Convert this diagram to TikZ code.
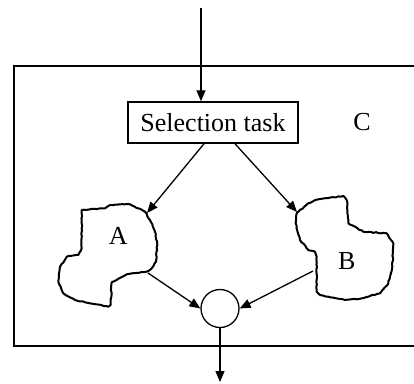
\documentclass[tikz,border=0pt]{standalone}
\usepackage{fontspec}
\setmainfont{Liberation Serif}
\usetikzlibrary{arrows.meta,decorations.pathmorphing,calc}
\begin{document}
\begin{tikzpicture}[x=1pt,y=-1pt,
  conn/.style={line width=1.3pt,-{Triangle[length=11pt,width=9pt]}},
  blob/.style={line width=2pt, line join=round, decorate,
    decoration={random steps,segment length=2.5pt,amplitude=0.45pt}},
  lbl/.style={font=\fontsize{26}{30}\selectfont, inner sep=0pt},
  taskbox/.style={draw, line width=1.5pt, minimum width=170pt, minimum height=41pt, inner sep=0pt, font=\fontsize{26}{30}\selectfont},
  junction/.style={draw, circle, line width=1.3pt, minimum size=38pt, inner sep=0pt}]
\useasboundingbox (0,0) rectangle (414,383);
\pgfmathsetseed{7}
% frame C
\draw[line width=2.2pt] (416,66) -- (14,66) -- (14,346) -- (416,346);
\node[lbl] (C) at (362,122) {C};
% selection task
\node[taskbox] (task) at (213,122.5) {Selection task};
\coordinate (in) at (201,8);
\draw[conn] (in) -- (in |- task.north);
% blob A
\draw[blob] (81.7,210) -- (105,208.3) -- (110,205) -- (130,204.3) -- (145,211.7) -- (150,220)
  -- (155,231.7) -- (157.3,245) -- (156,261.7) -- (150,270) -- (146.7,271.7) -- (126.7,274.3)
  -- (116.7,280) -- (111.7,282.3) -- (110.7,305) -- (108.3,306.7) -- (90,303.3) -- (75,300)
  -- (63.3,293.3) -- (58.3,281.7) -- (60,266.7) -- (66.7,256.7) -- (78.3,255) -- (81.7,248.3) -- cycle;
\node[lbl] (A) at (118.3,236) {A};
\coordinate (Ain) at (147,213);
\coordinate (Aout) at (148,273);
% blob B
\draw[blob] (298.3,211.7) -- (308.3,203.3) -- (318.3,199.3) -- (343.3,196) -- (346.7,200)
  -- (348.3,223.3) -- (363.3,231.7) -- (386.7,233.3) -- (393.3,243.3) -- (392.3,266.7)
  -- (388.3,283.3) -- (380,293.3) -- (361.7,298.3) -- (345,300) -- (320,295) -- (316.7,291.7)
  -- (316.7,256.7) -- (315,251.7) -- (308.3,250) -- (300,240) -- (295.7,223.3) -- (296.7,213.3) -- cycle;
\node[lbl] (B) at (346.7,261.5) {B};
\coordinate (Bin) at (297,212);
\coordinate (Bout) at (313,271);
% junction
\node[junction] (j) at (220,308.5) {};
\coordinate (out) at (220,382);
% connectors
\draw[conn] ([xshift=-9pt]task.south) -- (Ain);
\draw[conn] ([xshift=22pt]task.south) -- (Bin);
\draw[conn] (Aout) -- (j.west);
\draw[conn] (Bout) -- (j.east);
\draw[conn] (j.south) -- (out);
\end{tikzpicture}
\end{document}
